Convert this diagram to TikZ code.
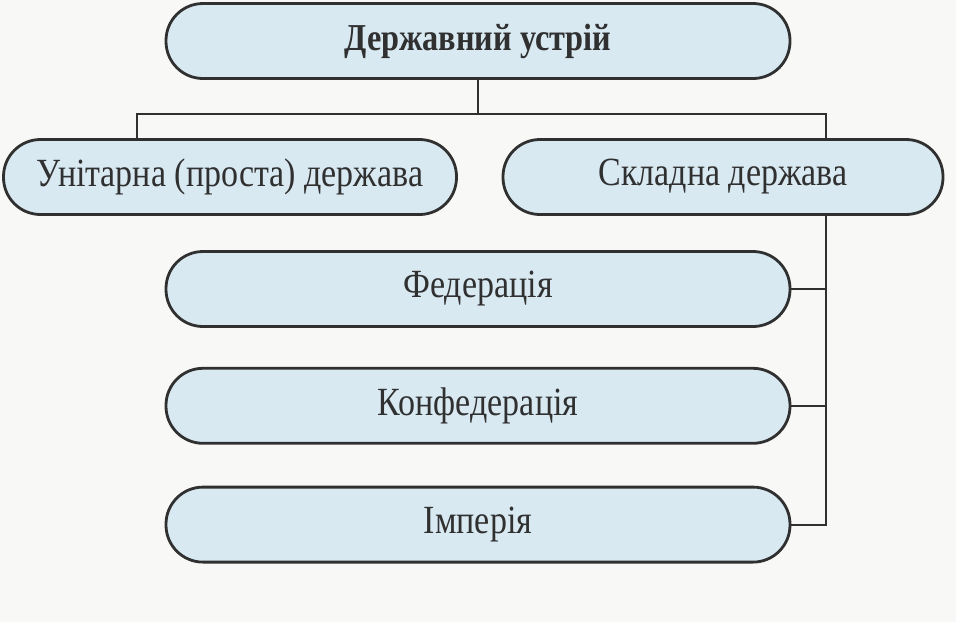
\documentclass[tikz,border=0pt]{standalone}
\usepackage{fontspec}
\setmainfont{Liberation Serif}[FakeStretch=0.85]
\usetikzlibrary{shapes,calc,positioning}
\definecolor{pillblue}{HTML}{D8E9F2}
\definecolor{ink}{HTML}{303030}
\definecolor{paper}{HTML}{F8F8F6}
\tikzstyle{pill}=[rounded corners=37pt,
                  line width=2.8pt,
                  draw=ink,
                  fill=pillblue,
                  minimum height=75pt,
                  text=ink,
                  font=\fontsize{40}{44}\selectfont]
\tikzstyle{link}=[line width=2.2pt,draw=ink]

\begin{document}
\begin{tikzpicture}[x=1pt,y=-1pt]
    \fill[paper] (0,0) rectangle (956,622);
    \useasboundingbox (0,0) rectangle (956,622);
    \node[pill, minimum width=624pt, font=\fontsize{38}{42}\selectfont\bfseries] (state) at (478,41) {Державний устрій};
    \node[pill, minimum width=453pt] (unitary) at (230,177) {Унітарна (проста) держава};
    \node[pill, minimum width=440pt] (complex) at (723,177) {Складна держава};
    \node[pill, minimum width=624pt] (federation) at (478,289) {Федерація};
    \node[pill, minimum width=624pt, below=39pt of federation] (confederation) {Конфедерація};
    \node[pill, minimum width=624pt, below=41pt of confederation] (empire) {Імперія};
    % branches from the top
    \coordinate (fork) at ($(state.south)+(0,34)$);
    \draw[link] (state.south) -- (fork);
    \draw[link] ($(unitary.north)+(-93,0)$) |- (fork) -| ($(complex.north)+(103,0)$);
    % kinds of the complex state
    \coordinate (trunk) at ($(complex.south)+(103,0)$);
    \draw[link] (trunk) |- (empire.east);
    \foreach \kind in {federation,confederation}
      \draw[link] (\kind.east) -- (\kind.east -| trunk);
\end{tikzpicture}
\end{document}
